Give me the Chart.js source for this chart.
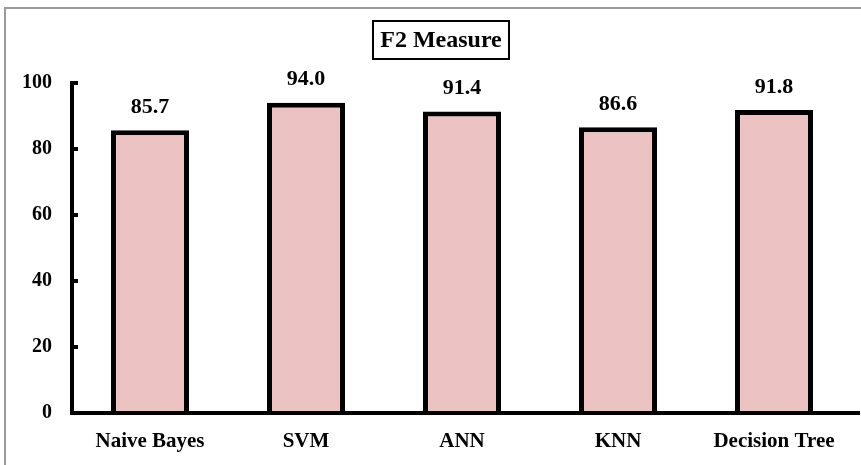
<!DOCTYPE html>
<html>
<head>
<meta charset="utf-8">
<script src="https://cdn.jsdelivr.net/npm/chart.js@4"></script>
<style>
  html, body { margin: 0; padding: 0; background: #fff; }
  #wrap { position: relative; width: 861px; height: 465px; }
</style>
</head>
<body>
<div id="wrap"><canvas id="grafica"></canvas></div>
<script>
const categorias = ['Naive Bayes', 'SVM', 'ANN', 'KNN', 'Decision Tree'];
const valores = [85.7, 94.0, 91.4, 86.6, 91.8];
const titulo = 'F2 Measure';
const serif = '"Liberation Serif", "Times New Roman", serif';

// borde gris del marco, caja del titulo, ejes y etiquetas de valor
const extras = {
  id: 'extras',
  beforeDraw(chart) {
    const c = chart.ctx;
    c.save();
    c.strokeStyle = '#9a9a9a';
    c.lineWidth = 2;
    c.beginPath();
    c.moveTo(5, 465);
    c.lineTo(5, 8);
    c.lineTo(861, 8);
    c.stroke();
    c.restore();
  },
  afterDatasetsDraw(chart) {
    const c = chart.ctx;
    const y = chart.scales.y;
    const a = chart.chartArea;
    c.save();
    // ejes
    c.strokeStyle = '#000';
    c.lineWidth = 4;
    c.beginPath();
    c.moveTo(a.left, y.getPixelForValue(100) - 2);
    c.lineTo(a.left, y.getPixelForValue(0));
    c.lineTo(a.right + 8, y.getPixelForValue(0));
    c.stroke();
    // marcas hacia dentro
    c.lineWidth = 4;
    for (let v = 0; v <= 100; v += 20) {
      const py = y.getPixelForValue(v);
      c.beginPath();
      c.moveTo(a.left, py);
      c.lineTo(a.left + 6, py);
      c.stroke();
    }
    // etiquetas de valor
    const meta = chart.getDatasetMeta(0);
    c.fillStyle = '#000';
    c.font = 'bold 22px ' + serif;
    c.textAlign = 'center';
    c.textBaseline = 'bottom';
    meta.data.forEach((bar, i) => {
      c.fillText(valores[i].toFixed(1), bar.x, bar.y - 12);
    });
    // titulo con caja
    c.font = 'bold 24px ' + serif;
    c.textBaseline = 'middle';
    c.fillText(titulo, 441, 41);
    c.lineWidth = 2;
    c.strokeRect(373, 21, 136, 38);
    c.restore();
  }
};

new Chart(document.getElementById('grafica').getContext('2d'), {
  type: 'bar',
  data: {
    labels: categorias,
    datasets: [{
      label: titulo,
      data: valores,
      backgroundColor: '#ecc2c2',
      borderColor: '#000',
      borderWidth: 5,
      borderSkipped: 'bottom',
      barPercentage: 0.5,
      categoryPercentage: 1
    }]
  },
  options: {
    responsive: true,
    maintainAspectRatio: false,
    animation: false,
    layout: { padding: { top: 83, right: 9, left: 0, bottom: 0 } },
    plugins: {
      legend: { display: false },
      title: { display: false },
      tooltip: { enabled: false }
    },
    scales: {
      x: {
        grid: { display: false, drawTicks: false },
        border: { display: false },
        ticks: {
          color: '#000',
          padding: 16,
          font: { family: serif, size: 21, weight: 'bold' }
        },
        afterFit(s) { s.height = 52; }
      },
      y: {
        min: 0,
        max: 100,
        grid: { display: false, drawTicks: false },
        border: { display: false },
        ticks: {
          stepSize: 20,
          color: '#000',
          padding: 20,
          font: { family: serif, size: 20, weight: 'bold' }
        },
        afterFit(s) { s.width = 72; }
      }
    }
  },
  plugins: [extras]
});
</script>
</body>
</html>
